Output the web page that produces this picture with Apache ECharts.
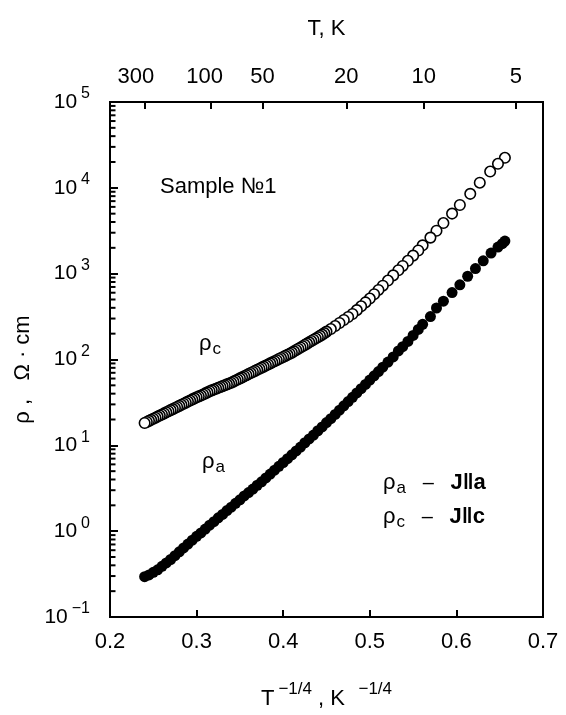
<!DOCTYPE html>
<html><head><meta charset="utf-8">
<script src="https://cdn.jsdelivr.net/npm/echarts@6/dist/echarts.min.js"></script>
<style>html,body{margin:0;padding:0;background:#fff}#c{width:566px;height:715px}</style>
</head><body><div id="c"></div>
<script>
// ---- data ----
// x = T^(-1/4), K^(-1/4)
const xRhoC = [
 0.2400,0.2425,0.2450,0.2475,0.2500,0.2525,0.2550,0.2575,0.2600,0.2625,
 0.2650,0.2675,0.2700,0.2725,0.2750,0.2775,0.2800,0.2825,0.2850,0.2875,
 0.2900,0.2925,0.2950,0.2975,0.3000,0.3025,0.3050,0.3075,0.3100,0.3125,
 0.3150,0.3175,0.3200,0.3225,0.3250,0.3275,0.3300,0.3325,0.3350,0.3375,
 0.3400,0.3425,0.3450,0.3475,0.3500,0.3525,0.3550,0.3575,0.3600,0.3625,
 0.3650,0.3675,0.3700,0.3725,0.3750,0.3775,0.3800,0.3825,0.3850,0.3875,
 0.3900,0.3925,0.3950,0.3975,0.4000,0.4025,0.4050,0.4075,0.4100,0.4125,
 0.4150,0.4175,0.4200,0.4225,0.4250,0.4275,0.4300,0.4325,0.4350,0.4375,
 0.4400,0.4425,0.4450,0.4475,0.4500,
 0.455,0.460,0.465,0.470,0.475,0.480,0.485,0.490,0.495,0.500,
 0.505,0.510,0.515,0.521,0.527,0.533,0.538,0.544,0.550,0.556,0.561,0.570,0.577,0.585,0.595,0.604,0.616,0.627,0.639,0.648,0.656];
// log10(rho_c / Ohm cm)
const log10RhoC = [
 1.260,1.272,1.285,1.297,1.310,1.322,1.335,1.347,1.360,1.372,
 1.385,1.397,1.410,1.422,1.435,1.447,1.460,1.472,1.485,1.497,
 1.510,1.522,1.535,1.547,1.560,1.570,1.580,1.592,1.605,1.617,
 1.630,1.640,1.650,1.660,1.670,1.680,1.690,1.700,1.710,1.720,
 1.730,1.742,1.755,1.767,1.780,1.792,1.805,1.817,1.830,1.842,
 1.855,1.867,1.880,1.892,1.905,1.917,1.930,1.942,1.955,1.967,
 1.980,1.992,2.005,2.017,2.030,2.042,2.055,2.067,2.080,2.095,
 2.110,2.125,2.140,2.155,2.170,2.185,2.200,2.215,2.230,2.245,
 2.260,2.275,2.290,2.307,2.325,
 2.355,2.390,2.425,2.460,2.495,2.530,2.575,2.620,2.665,2.710,
 2.76,2.81,2.86,2.92,2.98,3.04,3.09,3.15,3.21,3.27,3.33,3.42,3.50,3.59,3.70,3.80,3.93,4.06,4.19,4.28,4.35];
const xRhoA = [0.240,0.245,0.250,0.255,0.260,0.265,0.270,0.275,0.280,0.285,0.290,0.295,0.300,0.305,0.310,0.315,0.320,0.325,0.330,0.335,0.340,0.345,0.350,0.355,0.360,0.365,0.370,0.375,0.380,0.385,0.390,0.395,0.400,0.405,0.410,0.415,0.420,0.425,0.430,0.435,0.440,0.445,0.450,0.455,0.460,0.465,0.470,0.475,0.480,0.485,0.490,0.495,0.500,0.505,0.510,0.515,0.521,0.527,0.533,0.538,0.544,0.550,0.556,0.561,0.570,0.577,0.585,0.595,0.604,0.613,0.622,0.631,0.640,0.648,0.653,0.656];
// log10(rho_a / Ohm cm)
const log10RhoA = [-0.53,-0.51,-0.48,-0.45,-0.41,-0.37,-0.33,-0.285,-0.24,-0.195,-0.15,-0.105,-0.06,-0.02,0.025,0.07,0.11,0.155,0.195,0.24,0.28,0.325,0.365,0.41,0.45,0.49,0.535,0.575,0.62,0.665,0.71,0.755,0.80,0.845,0.89,0.935,0.98,1.03,1.075,1.12,1.17,1.215,1.265,1.31,1.36,1.41,1.46,1.51,1.56,1.61,1.66,1.71,1.76,1.81,1.86,1.91,1.97,2.03,2.10,2.15,2.21,2.28,2.35,2.41,2.50,2.60,2.68,2.78,2.87,2.97,3.06,3.15,3.24,3.31,3.35,3.38];
// top axis temperatures (K)
const topTempTicks = [300, 100, 50, 20, 10, 5];
// bottom axis tick labels
const xTickLabels = [0.2, 0.3, 0.4, 0.5, 0.6, 0.7];
// y-axis minor tick values (log axis)
const yMinorTicks = [0.2,0.3,0.4,0.5,0.6,0.7,0.8,0.9,2,3,4,5,6,7,8,9,20,30,40,50,60,70,80,90,200,300,400,500,600,700,800,900,2000,3000,4000,5000,6000,7000,8000,9000,20000,30000,40000,50000,60000,70000,80000,90000];

const FONT = '"Liberation Sans", Arial, Helvetica, sans-serif';
const X_MIN = xTickLabels[0], X_MAX = xTickLabels[xTickLabels.length - 1];

function pairs(xs, logs) {
  const n = Math.min(xs.length, logs.length), out = [];
  for (let i = 0; i < n; i++) out.push([xs[i], Math.pow(10, logs[i])]);
  return out.reverse(); // low-T points drawn first, high-T points on top
}
const dataC = pairs(xRhoC, log10RhoC);
const dataA = pairs(xRhoA, log10RhoA);

function supExp(e) { return e < 0 ? '\u2212' + (-e) : String(e); }
const topShift = {300: 'a', 100: 'b'};

const subRich = {
  r: {fontSize: 22, fontFamily: FONT, color: '#000'},
  s: {fontSize: 17, fontFamily: FONT, color: '#000', padding: [11, 0, 0, 1]},
  d: {fontSize: 20, fontFamily: FONT, color: '#000'},
  j: {fontSize: 22, fontWeight: 'bold', fontFamily: FONT, color: '#000'}
};

const chart = echarts.init(document.getElementById('c'), null, {renderer: 'canvas'});
chart.setOption({
  animation: false,
  backgroundColor: '#fff',
  textStyle: {fontFamily: FONT, color: '#000'},
  grid: {left: 110, right: 23, top: 102, bottom: 98, show: true, borderColor: '#000', borderWidth: 2, backgroundColor: 'transparent'},
  xAxis: [{
    type: 'value', position: 'bottom', min: X_MIN, max: X_MAX, interval: 0.1,
    axisLine: {show: true, lineStyle: {color: '#000', width: 2}},
    axisTick: {show: true, inside: true, length: 7, lineStyle: {color: '#000', width: 2}},
    axisLabel: {fontSize: 22, color: '#000', margin: 14, fontFamily: FONT, formatter: v => v.toFixed(1)},
    splitLine: {show: false},
    name: '{t|T}{s|\u22121/4}{t| , K}{s|  \u22121/4}',
    nameLocation: 'middle', nameGap: 64,
    nameTextStyle: {rich: {
      t: {fontSize: 22, fontFamily: FONT, color: '#000'},
      s: {fontSize: 17, fontFamily: FONT, color: '#000', padding: [0, 0, 18, 4]}
    }}
  }, {
    type: 'value', position: 'top', min: X_MIN, max: X_MAX,
    axisLine: {show: true, lineStyle: {color: '#000', width: 2}},
    axisTick: {show: true, inside: true, length: 7, lineStyle: {color: '#000', width: 2},
      customValues: topTempTicks.map(T => Math.pow(T, -0.25))},
    axisLabel: {fontSize: 22, color: '#000', margin: 14, fontFamily: FONT,
      customValues: topTempTicks.map(T => Math.pow(T, -0.25)),
      formatter: v => {
        const T = Math.round(Math.pow(v, -4));
        return topShift[T] ? '{' + topShift[T] + '|' + T + '}' : '{n|' + T + '}';
      },
      rich: {
        n: {fontSize: 22, fontFamily: FONT, color: '#000'},
        a: {fontSize: 22, fontFamily: FONT, color: '#000', padding: [0, 18, 0, 0]},
        b: {fontSize: 22, fontFamily: FONT, color: '#000', padding: [0, 12, 0, 0]}
      }},
    splitLine: {show: false},
    name: 'T, K', nameLocation: 'middle', nameGap: 62,
    nameTextStyle: {fontSize: 22, fontFamily: FONT, color: '#000'}
  }],
  yAxis: [{
    type: 'log', logBase: 10, min: 0.1, max: 100000, splitNumber: 6,
    axisLine: {show: true, lineStyle: {color: '#000', width: 2}},
    axisTick: {show: true, inside: true, length: 8, lineStyle: {color: '#000', width: 2}},
    axisLabel: {color: '#000', margin: 20, fontFamily: FONT,
      formatter: v => '{b|10}{e|' + supExp(Math.round(Math.log10(v))) + '}',
      rich: {
        b: {fontSize: 21, fontFamily: FONT, color: '#000'},
        e: {fontSize: 16, fontFamily: FONT, color: '#000', padding: [0, 0, 16, 4]}
      }},
    splitLine: {show: false},
    name: '\u03c1 ,   \u03a9 \u00b7 cm', nameLocation: 'middle', nameGap: 64, nameRotate: 90,
    nameTextStyle: {fontSize: 22, fontFamily: FONT, color: '#000', padding: [0, 20, 0, 0]}
  }],
  series: [{
    name: 'rho_c', type: 'scatter', xAxisIndex: 0, yAxisIndex: 0, symbol: 'circle', symbolSize: 10.5,
    itemStyle: {color: '#fff', borderColor: '#000', borderWidth: 1.6, opacity: 1},
    data: dataC, z: 3
  }, {
    name: 'rho_a', type: 'scatter', xAxisIndex: 0, yAxisIndex: 0, symbol: 'circle', symbolSize: 11,
    itemStyle: {color: '#000', opacity: 1},
    data: dataA, z: 3
  }, {
    // minor ticks on the left log axis, positioned through the axis scale
    name: 'yMinorTicks', type: 'custom', coordinateSystem: 'cartesian2d', xAxisIndex: 0, yAxisIndex: 0,
    silent: true, clip: false, z: 10,
    encode: {x: 0, y: 1},
    data: yMinorTicks.map(v => [X_MIN, v]),
    renderItem: function (params, api) {
      const p = api.coord([api.value(0), api.value(1)]);
      return {
        type: 'rect',
        shape: {x: p[0], y: p[1] - 1, width: 5.5, height: 2},
        style: {fill: '#000'}
      };
    }
  }],
  graphic: [
    {type: 'text', left: 160, top: 176, style: {text: 'Sample \u21161', font: '22px ' + FONT, fill: '#000'}},
    {type: 'text', left: 199, top: 333, style: {text: '{r|\u03c1}{s|c}', rich: subRich}},
    {type: 'text', left: 202, top: 451, style: {text: '{r|\u03c1}{s|a}', rich: subRich}},
    {type: 'text', left: 383, top: 472, style: {text: '{r|\u03c1}{s|a}{d|   \u2013   }{j|J\u2016a}', rich: subRich}},
    {type: 'text', left: 383, top: 506, style: {text: '{r|\u03c1}{s|c}{d|   \u2013   }{j|J\u2016c}', rich: subRich}}
  ]
});
</script></body></html>
